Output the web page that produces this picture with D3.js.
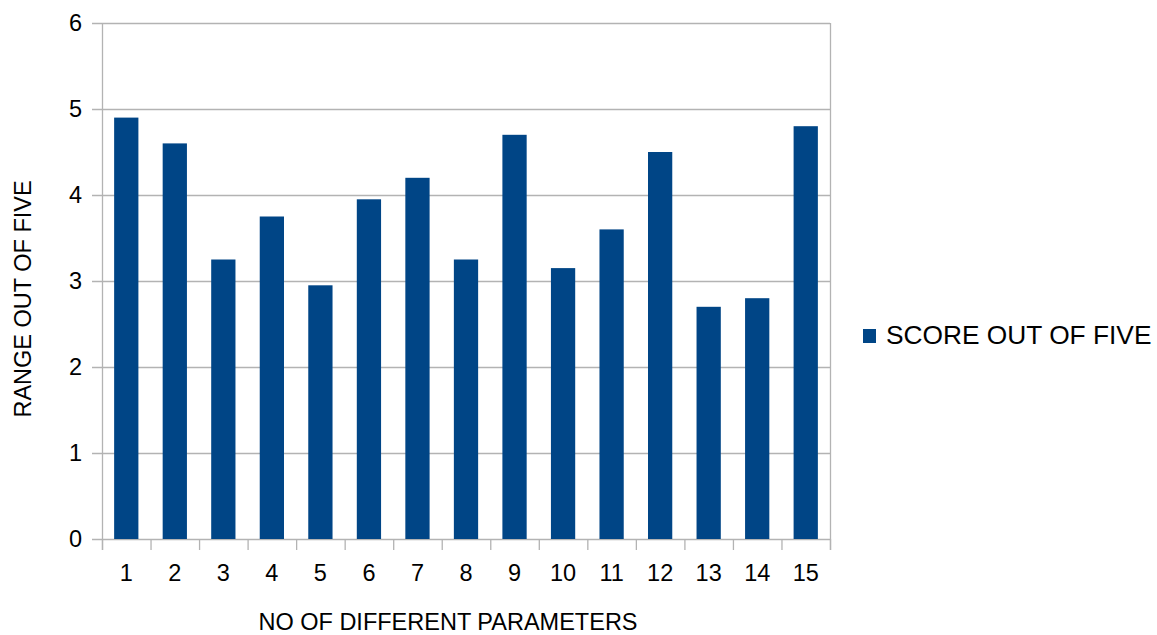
<!DOCTYPE html>
<html>
<head>
<meta charset="utf-8">
<script src="https://cdn.jsdelivr.net/npm/d3@7"></script>
<style>
  html, body { margin: 0; padding: 0; background: #fff; }
  svg { display: block; font-family: "Liberation Sans", Arial, sans-serif; }
</style>
</head>
<body>
<svg id="chart" width="1157" height="635"></svg>
<script>
const categories = ["1","2","3","4","5","6","7","8","9","10","11","12","13","14","15"];
const scores = [4.9, 4.6, 3.25, 3.75, 2.95, 3.95, 4.2, 3.25, 4.7, 3.15, 3.6, 4.5, 2.7, 2.8, 4.8];
const yTicks = [0, 1, 2, 3, 4, 5, 6];
const seriesName = "SCORE OUT OF FIVE";
const xTitle = "NO OF DIFFERENT PARAMETERS";
const yTitle = "RANGE OUT OF FIVE";

(function () {
const svg = d3.select("#chart");
const pL = 102, pR = 830, pT = 23, pB = 539;
const gridColor = "#b3b3b3";
const barColor = "#004586";

const x = d3.scaleBand().domain(categories).range([pL, pR]).paddingInner(0.5).paddingOuter(0.25);
const y = d3.scaleLinear().domain([0, 6]).range([pB, pT]);

// gridlines
svg.append("g").selectAll("line").data(yTicks).join("line")
  .attr("x1", pL - 10).attr("x2", pR)
  .attr("y1", d => y(d) + 0.5).attr("y2", d => y(d) + 0.5)
  .attr("stroke", gridColor).attr("stroke-width", 1.3);

// right border
svg.append("line").attr("x1", pR + 0.5).attr("x2", pR + 0.5)
  .attr("y1", pT).attr("y2", pB + 11).attr("stroke", gridColor).attr("stroke-width", 1.3);

// bars
svg.append("g").selectAll("rect").data(scores).join("rect")
  .attr("x", (d, i) => x(categories[i]))
  .attr("width", x.bandwidth())
  .attr("y", d => y(d))
  .attr("height", d => y(0) - y(d))
  .attr("fill", barColor);

// y axis line
svg.append("line").attr("x1", pL + 0.5).attr("x2", pL + 0.5)
  .attr("y1", pT).attr("y2", pB + 11).attr("stroke", gridColor).attr("stroke-width", 1.3);

// x tick marks at band boundaries
const boundaries = d3.range(categories.length + 1).map(i => pL + i * (pR - pL) / categories.length);
svg.append("g").selectAll("line").data(boundaries).join("line")
  .attr("x1", d => d + 0.5).attr("x2", d => d + 0.5)
  .attr("y1", pB).attr("y2", pB + 11)
  .attr("stroke", gridColor).attr("stroke-width", 1.3);

// y tick labels
svg.append("g").selectAll("text").data(yTicks).join("text")
  .attr("x", 82).attr("y", d => y(d))
  .attr("dy", "0.36em")
  .attr("text-anchor", "end")
  .attr("font-size", 23.5)
  .attr("fill", "#000")
  .text(d => d);

// x tick labels
svg.append("g").selectAll("text").data(categories).join("text")
  .attr("x", d => x(d) + x.bandwidth() / 2)
  .attr("y", 581)
  .attr("text-anchor", "middle")
  .attr("font-size", 23.5)
  .attr("fill", "#000")
  .text(d => d);

// axis titles
svg.append("text").attr("x", 448).attr("y", 630)
  .attr("text-anchor", "middle").attr("font-size", 23.5).attr("fill", "#000").text(xTitle);
svg.append("text").attr("transform", "translate(31,299) rotate(-90)")
  .attr("text-anchor", "middle").attr("font-size", 23.5).attr("fill", "#000").text(yTitle);

// legend
const lg = svg.append("g");
lg.append("rect").attr("x", 863).attr("y", 329).attr("width", 13).attr("height", 14).attr("fill", barColor);
lg.append("text").attr("x", 886).attr("y", 344).attr("font-size", 26.3).attr("fill", "#000").text(seriesName);
})();
</script>
</body>
</html>
